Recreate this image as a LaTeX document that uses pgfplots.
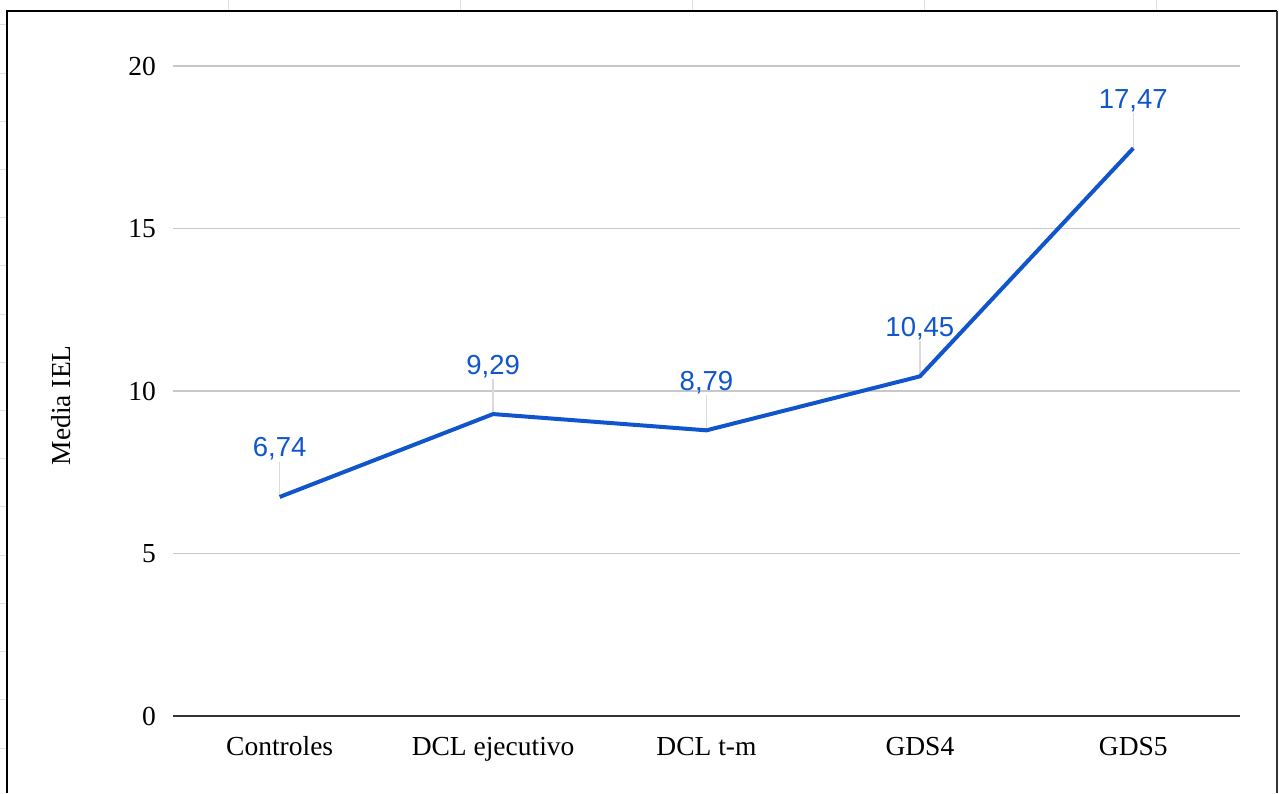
\documentclass[border=0pt]{standalone}
\usepackage{fontspec}
\setmainfont{Liberation Serif}
\newfontfamily\labfont{Liberation Sans}
\usepackage{pgfplots}
\pgfplotsset{compat=1.18}
\definecolor{sblue}{HTML}{1155CC}
\definecolor{gridgray}{HTML}{C8C8C8}
\definecolor{leadgray}{HTML}{DADADA}
\definecolor{axgray}{HTML}{333333}
\begin{document}
\fontsize{27.5pt}{33pt}\selectfont
\begin{tikzpicture}
\path[use as bounding box] (0pt,0pt) rectangle (1279pt,793pt);
\foreach \x in {228,460,692,924,1156} \draw[gray!25, line width=1pt] (\x pt,782pt) -- (\x pt,793pt);
\foreach \i in {0,...,15} \draw[gray!25,line width=1pt] (0pt,{(793-25-48.2*\i)*1pt}) -- (7pt,{(793-25-48.2*\i)*1pt});
\begin{axis}[
  at={(173pt,77pt)}, anchor=south west,
  scale only axis, width=1067pt, height=650pt,
  xmin=-0.5, xmax=4.5, ymin=0, ymax=20,
  clip=false,
  /pgf/number format/assume math mode=true,
  font=\fontsize{27.5pt}{33pt}\selectfont,
  axis line style={draw=none},
  tick style={draw=none},
  xtick={0,1,2,3,4},
  xticklabels={Controles, DCL ejecutivo, DCL t-m, GDS4, GDS5},
  ytick={5,10,15,20},
  extra y ticks={0},
  extra y tick style={grid=major, grid style={axgray, line width=2pt}},
  ymajorgrids=true,
  grid style={gridgray, line width=1.5pt},
  yticklabel style={anchor=east, inner sep=0pt, xshift=-17pt},
  xticklabel style={anchor=base, inner sep=0pt, yshift=-39pt},
  ylabel={Media IEL},
  every axis y label/.style={at={(axis description cs:-0.105,0.478)}, rotate=90, anchor=center},
]
\addplot[draw=none, mark=none, forget plot,
  error bars/.cd, y dir=plus, y explicit,
  error bar style={leadgray, line width=1.3pt}, error mark=none]
  coordinates {(0,6.74) +- (0,1.08) (1,9.29) +- (0,1.08) (2,8.79) +- (0,1.08) (3,10.45) +- (0,1.08) (4,17.47) +- (0,1.08)};
\addplot[sblue, line width=4pt, mark=none, line join=round,
  nodes near coords={\labfont\pgfmathprintnumber[use comma, fixed, precision=2, fixed zerofill]{\pgfplotspointmeta}},
  every node near coord/.style={anchor=base, yshift=40pt, text=sblue, inner sep=0pt, font=\fontsize{27.5pt}{33pt}\selectfont}]
  coordinates {(0,6.74) (1,9.29) (2,8.79) (3,10.45) (4,17.47)};
\end{axis}
\draw[black, line width=2.5pt] (7pt,0pt) -- (7pt,782pt) -- (1277pt,782pt);
\draw[axgray, line width=1.5pt] (1277pt,782pt) -- (1277pt,0pt);
\end{tikzpicture}
\end{document}
